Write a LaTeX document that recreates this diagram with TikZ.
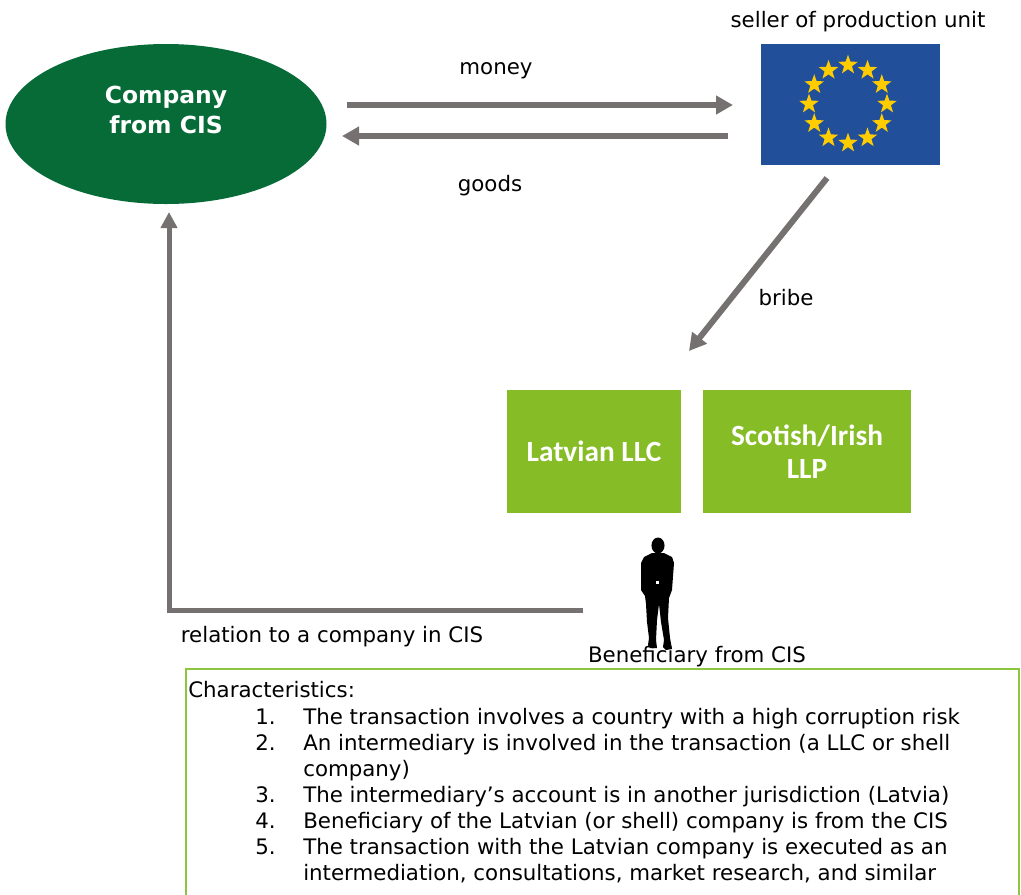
\documentclass[tikz,border=0pt]{standalone}
\usepackage{fontspec}
\setmainfont{DejaVu Sans}
\newfontfamily\boxfont{Carlito}
\usetikzlibrary{arrows.meta,shapes.geometric,calc}
\definecolor{arrowgray}{HTML}{767171}
\definecolor{darkgreen}{HTML}{076B38}
\definecolor{limegreen}{HTML}{86BC25}
\definecolor{flagblue}{HTML}{214F9A}
\definecolor{staryellow}{HTML}{FFCC00}
\definecolor{framegreen}{HTML}{8CC63E}
\tikzset{
  flow/.style={draw=arrowgray, line width=4.5pt, -{Triangle[length=12.75pt,width=13.5pt]}},
  lbl/.style={font=\fontsize{16}{19}\selectfont, inner sep=0pt},
  greenbox/.style={fill=limegreen, draw=none, text=white, align=center,
    font=\boxfont\bfseries\fontsize{22}{24.75}\selectfont},
  eustar/.style={star, star points=5, star point ratio=2.5, fill=staryellow, draw=none,
    minimum size=15.5pt, inner sep=0pt},
  charline/.style={anchor=mid west, inner sep=0pt, font=\fontsize{16}{19}\selectfont},
  numline/.style={anchor=mid east, inner sep=0pt, font=\fontsize{16}{19}\selectfont},
}
\begin{document}
\begin{tikzpicture}[x=0.75pt,y=-0.75pt]
\useasboundingbox (0,0) rectangle (1021,894);
\clip (0,0) rectangle (1021,894);

% Company from CIS
\node (cis) [ellipse, fill=darkgreen, draw=none, minimum width=240.75pt, minimum height=120pt, inner sep=0pt] at (166,124) {};
\node (cistext) [text=white, align=center, font=\bfseries\fontsize{17.6}{22}\selectfont, inner sep=0pt] at (166,110) {Company\\from CIS};

% EU flag
\node (flag) [fill=flagblue, draw=none, minimum width=134.25pt, minimum height=90.75pt, inner sep=0pt] at (850.5,104.5) {};
\foreach \k in {0,...,11} {
  \node (st\k) [eustar] at ($(848,104)+({39*cos(30*\k)},{39*sin(30*\k)})$) {};
}
\node (seller) [lbl] at (858,22) {seller of production unit};

% money / goods
\coordinate (m1) at (347,105);
\coordinate (m2) at (733,105);
\coordinate (g1) at (728,136);
\coordinate (g2) at (342,136);
\draw[flow] (m1) -- (m2);
\draw[flow] (g1) -- (g2);
\node (money) [lbl] at (496,71) {money};
\node (goods) [lbl] at (490,186) {goods};

% bribe
\coordinate (b1) at (827,178);
\coordinate (b2) at (689,351);
\draw[flow] (b1) -- (b2);
\node (bribe) [lbl] at (786,298) {bribe};

% green boxes
\node (llc) [greenbox, minimum width=130.5pt, minimum height=92.25pt] at (594,451.5) {Latvian LLC};
\node (llp) [greenbox, minimum width=156pt, minimum height=92.25pt] at (807,451.5) {Scotish/Irish\\LLP};

% person silhouette
\fill[black] (658,545.5) ellipse [x radius=4.9pt, y radius=6pt];
\fill[black] (652,553) -- (644,557) -- (641,563) -- (641,590) -- (645,596)
  -- (646,604) -- (647,622) -- (649,638) -- (648,645) -- (650,648) -- (657,648)
  -- (656,640) -- (657,620) -- (659,604) -- (661,622) -- (664,640) -- (663,647)
  -- (666,650) -- (672,649) -- (670,638) -- (668,618) -- (669,598) -- (672,590)
  -- (674,563) -- (672,557) -- (664,553) -- cycle;
\fill[white] (656,581) rectangle (659,584);
\node (benef) [lbl] at (697,657) {Beneficiary from CIS};

% relation line
\coordinate (r1) at (583,610);
\coordinate (rc) at (169,610);
\coordinate (r2) at (169,212);
\draw[draw=arrowgray, line width=3.75pt, -{Triangle[length=12pt,width=12pt]}] (r1) -- (rc) -- (r2);
\node (rel) [lbl] at (332,637) {relation to a company in CIS};

% characteristics box
\draw[draw=framegreen, line width=1.5pt] (186,669) rectangle (1019,905);
\node (chhead) [charline] at (188,694) {Characteristics:};
\node (n1) [numline] at (276,721) {1.};
\node (t1) [charline] at (303,721) {The transaction involves a country with a high corruption risk};
\node (n2) [numline] at (276,747) {2.};
\node (t2) [charline] at (303,747) {An intermediary is involved in the transaction (a LLC or shell};
\node (t2b) [charline] at (303,773) {company)};
\node (n3) [numline] at (276,799) {3.};
\node (t3) [charline] at (303,799) {The intermediary’s account is in another jurisdiction (Latvia)};
\node (n4) [numline] at (276,825) {4.};
\node (t4) [charline] at (303,825) {Beneficiary of the Latvian (or shell) company is from the CIS};
\node (n5) [numline] at (276,851) {5.};
\node (t5) [charline] at (303,851) {The transaction with the Latvian company is executed as an};
\node (t5b) [charline] at (303,877) {intermediation, consultations, market research, and similar};
\end{tikzpicture}
\end{document}
